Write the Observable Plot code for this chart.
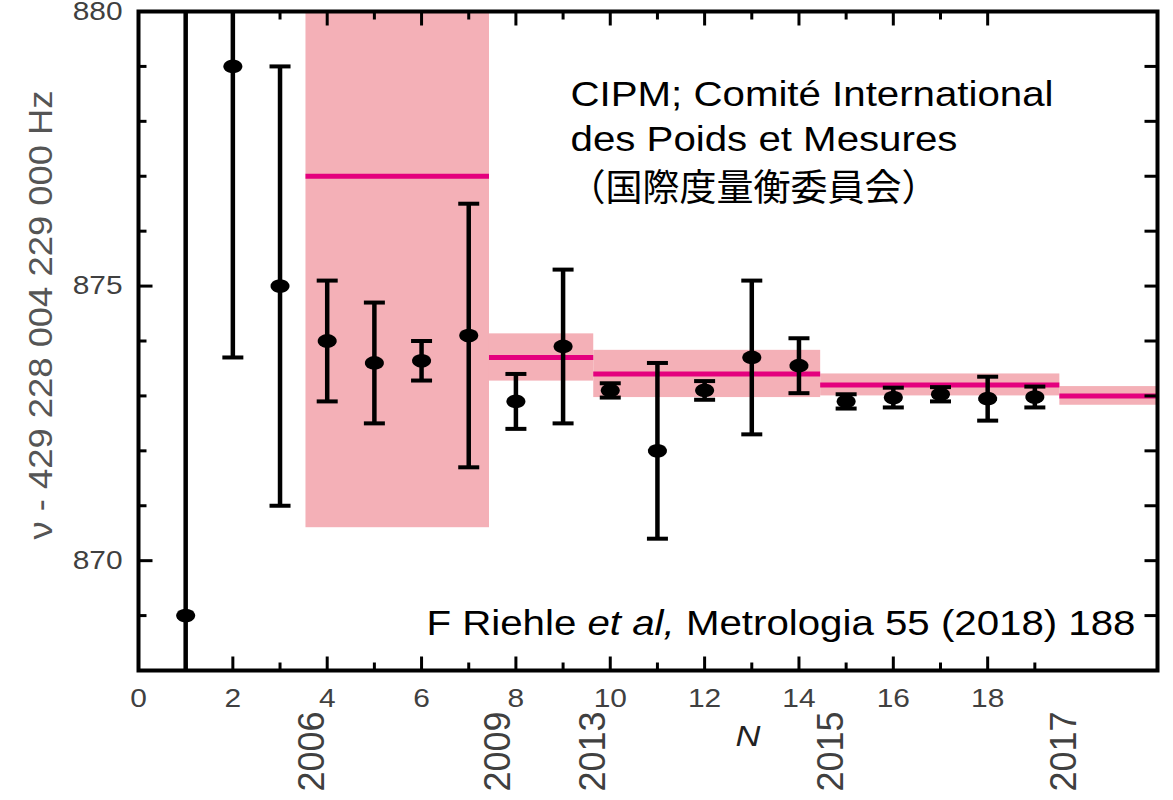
<!DOCTYPE html>
<html>
<head>
<meta charset="utf-8">
<script src="https://cdn.jsdelivr.net/npm/d3@7"></script>
<script src="https://cdn.jsdelivr.net/npm/@observablehq/plot@0.6"></script>
<style>
  html, body { margin: 0; padding: 0; background: #ffffff; }
  #chart { width: 1173px; height: 800px; overflow: hidden; }
</style>
</head>
<body>
<div id="chart"></div>
<script>
// ---- measurements (x = N, y = ν − 429 228 004 229 000 Hz)
const N           = [1, 2, 3, 4, 5, 6, 7, 8, 9, 10, 11, 12, 13, 14, 15, 16, 17, 18, 19];
const value       = [869.0, 879.0, 875.0, 874.0, 873.6, 873.64, 874.1, 872.9, 873.9, 873.1, 872.0, 873.1, 873.7, 873.55, 872.9, 872.97, 873.03, 872.95, 872.98];
const uncertainty = [12, 5.3, 4.0, 1.1, 1.1, 0.36, 2.4, 0.5, 1.4, 0.13, 1.6, 0.17, 1.4, 0.5, 0.13, 0.18, 0.13, 0.4, 0.19];

// ---- CIPM recommended values
const cipmYear  = ["2006", "2009", "2013", "2015", "2017"];
const cipmStart = [3.55, 7.44, 9.65, 14.46, 19.53];
const cipmEnd   = [7.44, 9.65, 14.46, 19.53, 21.6];
const cipmValue = [877.0, 873.7, 873.4, 873.2, 873.0];
const cipmUnc   = [6.4, 0.43, 0.43, 0.2, 0.17];
const yearLabelX = [3.67, 7.62, 9.63, 14.68, 19.62];

// ---- axes
const xDomain = [0, 21.6];
const yDomain = [868, 880];
const xTickLabels = [0, 2, 4, 6, 8, 10, 12, 14, 16, 18];
const yTickLabels = [870, 875, 880];
const xMajorTicks = [2, 4, 6, 8, 10, 12, 14, 16, 18];
const xMinorBottom = [1, 3, 5, 7, 9, 11, 13, 15, 17, 19];
const xMinorTop = [1, 3, 5, 7, 9, 11, 13, 15, 17];
const yMajorTicks = [870, 875];
const yMinorTicks = [869, 871, 872, 873, 874, 876, 877, 878, 879];
const yRightTicks = [869, 870, 871, 872, 873, 874, 875, 876, 877, 878, 879];
const xLabel = "N";
const xLabelAt = 12.92;
const yLabel = "ν - 429 228 004 229 000 Hz";
const cipmNote = "CIPM; Comité International\ndes Poids et Mesures";
const cipmNoteJa = "（国際度量衡委員会）";
const captionParts = ["F Riehle ", "et al,", " Metrologia 55 (2018) 188"];

// ---- tables built from the arrays
const points = N.map((n, i) => ({n, v: value[i], lo: value[i] - uncertainty[i], hi: value[i] + uncertainty[i]}));
const bands = cipmYear.map((y, i) => ({year: y, x1: cipmStart[i], x2: cipmEnd[i], v: cipmValue[i],
  lo: cipmValue[i] - cipmUnc[i], hi: cipmValue[i] + cipmUnc[i]}));
const years = cipmYear.map((y, i) => ({year: y, x: yearLabelX[i]}));

// ---- symbols
const ellipse = {draw(ctx, size) {
  const r = Math.sqrt(size / Math.PI), rx = r * 1.4, ry = r, n = 28;
  for (let i = 0; i < n; i++) {
    const a = 2 * Math.PI * i / n, px = rx * Math.cos(a), py = ry * Math.sin(a);
    if (i) ctx.lineTo(px, py); else ctx.moveTo(px, py);
  }
  ctx.closePath();
}};
const capSym = {draw(ctx, size) { const r = Math.sqrt(size / Math.PI); ctx.moveTo(-r, 0); ctx.lineTo(r, 0); }};
const tickSym = (dx, dy) => ({draw(ctx) { ctx.moveTo(0, 0); ctx.lineTo(dx, dy); }});

const ink = "#000000";
const grey = "#404040";
const bandFill = "#F4B0B7";
const magenta = "#E4007E";

const chart = Plot.plot({
  width: 1173,
  height: 800,
  marginLeft: 138,
  marginRight: 16,
  marginTop: 11,
  marginBottom: 130,
  style: {fontFamily: "'Liberation Sans', Arial, sans-serif", fontSize: "26px", background: "#ffffff", overflow: "visible"},
  x: {domain: xDomain, axis: null},
  y: {domain: yDomain, axis: null},
  marks: [
    // CIPM bands and recommended values
    Plot.rect(bands, {x1: "x1", x2: "x2", y1: "lo", y2: "hi", fill: bandFill, clip: true}),
    Plot.ruleY(bands, {x1: "x1", x2: "x2", y: "v", stroke: magenta, strokeWidth: 5, clip: true}),
    // error bars
    Plot.ruleX(points, {x: "n", y1: "lo", y2: "hi", stroke: ink, strokeWidth: 4.5, clip: true}),
    Plot.dot(points, {x: "n", y: "lo", symbol: capSym, r: 10.5, stroke: ink, fill: "none", strokeWidth: 4, clip: true}),
    Plot.dot(points, {x: "n", y: "hi", symbol: capSym, r: 10.5, stroke: ink, fill: "none", strokeWidth: 4, clip: true}),
    Plot.dot(points, {x: "n", y: "v", symbol: ellipse, r: 6.8, fill: ink, stroke: "none", clip: true}),
    // inward ticks on all four sides
    Plot.dot(xMajorTicks, {x: d => d, frameAnchor: "bottom", symbol: tickSym(0, -14), r: 1, stroke: ink, fill: "none", strokeWidth: 3}),
    Plot.dot(xMinorBottom, {x: d => d, frameAnchor: "bottom", symbol: tickSym(0, -8), r: 1, stroke: ink, fill: "none", strokeWidth: 3}),
    Plot.dot(xMajorTicks, {x: d => d, frameAnchor: "top", symbol: tickSym(0, 14), r: 1, stroke: ink, fill: "none", strokeWidth: 3}),
    Plot.dot(xMinorTop, {x: d => d, frameAnchor: "top", symbol: tickSym(0, 8), r: 1, stroke: ink, fill: "none", strokeWidth: 3}),
    Plot.dot(yMajorTicks, {y: d => d, frameAnchor: "left", symbol: tickSym(14, 0), r: 1, stroke: ink, fill: "none", strokeWidth: 3}),
    Plot.dot(yMinorTicks, {y: d => d, frameAnchor: "left", symbol: tickSym(8, 0), r: 1, stroke: ink, fill: "none", strokeWidth: 3}),
    Plot.dot(yRightTicks, {y: d => d, frameAnchor: "right", symbol: tickSym(-13, 0), r: 1, stroke: ink, fill: "none", strokeWidth: 3}),
    Plot.frame({stroke: ink, strokeWidth: 4}),
    // tick labels
    Plot.axisX({ticks: xTickLabels, tickSize: 0, tickPadding: 18, label: null, fill: grey, fontSize: 26, tickFormat: d => String(d)}),
    Plot.axisY({ticks: yTickLabels, tickSize: 0, tickPadding: 16, label: null, fill: grey, fontSize: 26, tickFormat: d => String(d)}),
    // year labels under the axis
    Plot.text(years, {x: "x", text: "year", frameAnchor: "bottom", rotate: -90, textAnchor: "end", dx: 12, dy: 41,
      fontSize: 36, fill: grey}),
    // axis titles
    Plot.text([xLabel], {x: () => xLabelAt, text: d => d, frameAnchor: "bottom", dy: 75, fontSize: 30,
      fontStyle: "italic", fill: "#222222"}),
    Plot.text([yLabel], {text: d => d, frameAnchor: "left", rotate: -90, textAnchor: "middle", dx: -97, dy: -26,
      fontSize: 34, fill: "#555555"}),
    // annotations
    Plot.text([cipmNote], {text: d => d, frameAnchor: "top-left", dx: 432, dy: 63, textAnchor: "start",
      lineAnchor: "top", lineHeight: 1.286, fontSize: 35, fill: ink}),
    Plot.text([cipmNoteJa], {text: d => d, frameAnchor: "top-left", dx: 430, dy: 163, textAnchor: "start",
      lineAnchor: "top", fontSize: 37, fill: ink, fontFamily: "'Noto Sans CJK JP', 'Noto Sans CJK SC', sans-serif"}),
    Plot.text([captionParts.join("")], {text: d => d, frameAnchor: "bottom-right", dx: -22, dy: -36,
      textAnchor: "end", fontSize: 35, fill: ink})
  ]
});

const allTexts = Array.from(chart.querySelectorAll("text"));
const findTexts = pred => allTexts.filter(t => pred(t.textContent));
const stretchEls = (els, s) => els.forEach(t =>
  t.setAttribute("transform", (t.getAttribute("transform") || "") + ` scale(${s},1)`));

// italic "et al," inside the caption
const captionText = captionParts.join("");
const capEls = findTexts(s => s === captionText);
capEls.forEach(cap => {
  cap.textContent = "";
  cap.style.whiteSpace = "pre";
  captionParts.forEach((p, i) => {
    const ts = document.createElementNS("http://www.w3.org/2000/svg", "tspan");
    ts.textContent = p;
    if (i === 1) ts.setAttribute("font-style", "italic");
    cap.appendChild(ts);
  });
});

// the reference's lettering is drawn wide: stretch along the reading direction
const tickStrings = new Set([...xTickLabels, ...yTickLabels].map(String));
stretchEls(findTexts(s => tickStrings.has(s)), 1.15);
stretchEls(findTexts(s => s.startsWith("CIPM")), 1.15);
stretchEls(capEls, 1.15);
stretchEls(findTexts(s => s === xLabel), 1.15);
stretchEls(findTexts(s => s === yLabel), 1.07);

document.getElementById("chart").appendChild(chart);
</script>
</body>
</html>
